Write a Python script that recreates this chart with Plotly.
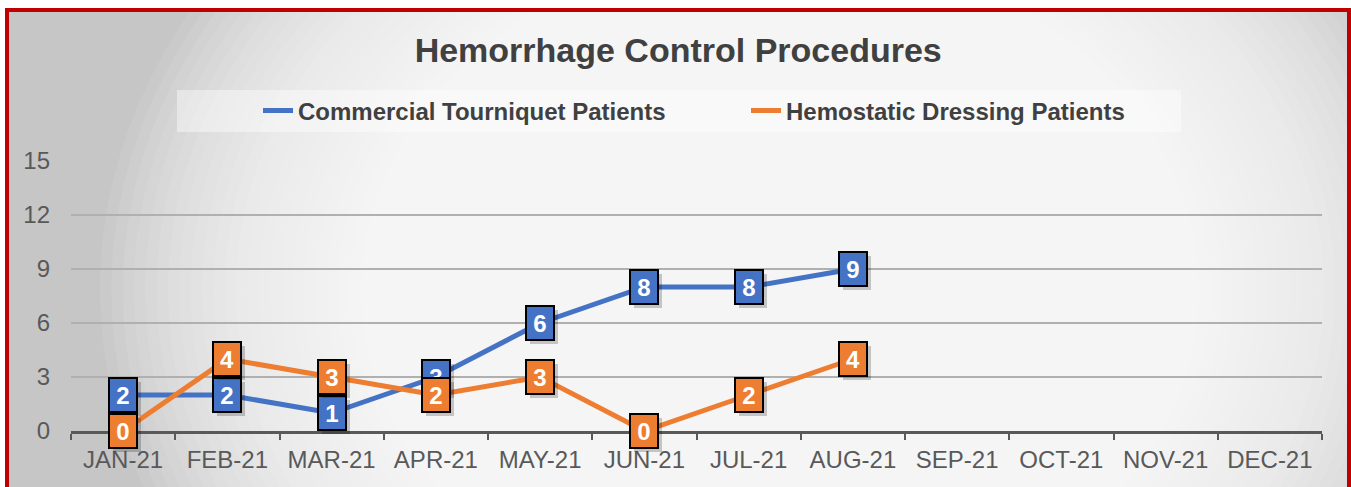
import plotly.graph_objects as go

months = ["JAN-21", "FEB-21", "MAR-21", "APR-21", "MAY-21", "JUN-21",
          "JUL-21", "AUG-21", "SEP-21", "OCT-21", "NOV-21", "DEC-21"]
tourniquet = [2, 2, 1, 3, 6, 8, 8, 9, None, None, None, None]
dressing = [0, 4, 3, 2, 3, 0, 2, 4, None, None, None, None]
y_ticks = [0, 3, 6, 9, 12, 15]

BLUE = "#4472C4"
ORANGE = "#ED7D31"
FONT = "Liberation Sans, Arial, sans-serif"

W, H = 1351, 487
L, R, T, B = 71, 29, 161, 56
PW, PH = W - L - R, H - T - B


def px(x):
    return (x - L) / PW


def py(y):
    return (H - B - y) / PH


fig = go.Figure()
fig.add_trace(go.Scatter(x=months, y=tourniquet, mode="lines", name="Commercial Tourniquet Patients",
                         line=dict(color=BLUE, width=5), connectgaps=False))
fig.add_trace(go.Scatter(x=months, y=dressing, mode="lines", name="Hemostatic Dressing Patients",
                         line=dict(color=ORANGE, width=5), connectgaps=False))

annotations = []
for series, color in ((tourniquet, BLUE), (dressing, ORANGE)):
    for m, v in zip(months, series):
        if v is None:
            continue
        annotations.append(dict(x=m, y=v, xref="x", yref="y", text="", showarrow=False,
                                width=28, height=34, bgcolor="rgba(0,0,0,0.2)",
                                borderwidth=0, borderpad=0, xshift=4, yshift=-4))
        annotations.append(dict(x=m, y=v, xref="x", yref="y", text=str(v), showarrow=False,
                                width=26, height=32, bgcolor=color, bordercolor="#000000",
                                borderwidth=2, borderpad=0,
                                font=dict(family=FONT, size=24, color="white", weight=700)))

shapes = []
shapes.append(dict(type="rect", xref="paper", yref="paper", layer="below",
                   x0=px(6), x1=px(1349), y0=py(9), y1=py(495),
                   fillcolor="#c6c6c6", line=dict(width=0)))
cx, cy = 780, 290
N = 60
for i in range(N):
    f = 1 - i / N
    rx, ry = 680 * f, 560 * f
    shapes.append(dict(type="circle", xref="paper", yref="paper", layer="below",
                       x0=px(cx - rx), x1=px(cx + rx),
                       y0=py(cy + ry), y1=py(cy - ry),
                       fillcolor="rgba(255,255,255,0.085)", line=dict(width=0)))
# white outside border (cover gradient overflow)
shapes.append(dict(type="rect", xref="paper", yref="paper", layer="below",
                   x0=px(-50), x1=px(1400), y0=py(-300), y1=py(8),
                   fillcolor="white", line=dict(width=0)))
shapes.append(dict(type="rect", xref="paper", yref="paper", layer="below",
                   x0=px(-300), x1=px(5), y0=py(-300), y1=py(900),
                   fillcolor="white", line=dict(width=0)))
# legend background box
shapes.append(dict(type="rect", xref="paper", yref="paper", layer="below",
                   x0=px(177), x1=px(1181), y0=py(132), y1=py(90),
                   fillcolor="rgba(255,255,255,0.42)", line=dict(width=0)))
# red border
shapes.append(dict(type="rect", xref="paper", yref="paper", layer="above",
                   x0=px(7), x1=px(1349), y0=py(10), y1=py(500),
                   fillcolor="rgba(0,0,0,0)", line=dict(color="#C00000", width=4)))

fig.update_layout(
    width=W, height=H,
    margin=dict(l=L, r=R, t=T, b=B),
    paper_bgcolor="white",
    plot_bgcolor="rgba(0,0,0,0)",
    title=dict(text="Hemorrhage Control Procedures", x=0.502, xref="container", xanchor="center",
               y=1 - 50 / H, yref="container", yanchor="middle",
               font=dict(family=FONT, size=34, color="#404040", weight=700)),
    legend=dict(orientation="h", x=px(258), xanchor="left", y=py(111), yanchor="middle",
                bgcolor="rgba(0,0,0,0)", entrywidth=443, itemwidth=30,
                font=dict(family=FONT, size=24, color="#404040", weight=700)),
    xaxis=dict(type="category", categoryorder="array", categoryarray=months,
               range=[-0.5, len(months) - 0.5],
               tickson="boundaries", ticks="outside", ticklen=6, tickwidth=2, tickcolor="#595959",
               showline=True, linewidth=3, linecolor="#595959", showgrid=False,
               tickfont=dict(family=FONT, size=24, color="#595959"), ticklabelstandoff=5),
    yaxis=dict(range=[0, 15], tickvals=y_ticks, showgrid=True, gridcolor="#b0b0b0", gridwidth=1.5,
               zeroline=False, showline=False, ticks="",
               tickfont=dict(family=FONT, size=24, color="#595959"), ticklabelstandoff=20),
    annotations=annotations,
    shapes=shapes,
    showlegend=True,
)

fig.write_html("out.html", config={"displayModeBar": False},
               post_script="document.body.style.margin='0px';")
